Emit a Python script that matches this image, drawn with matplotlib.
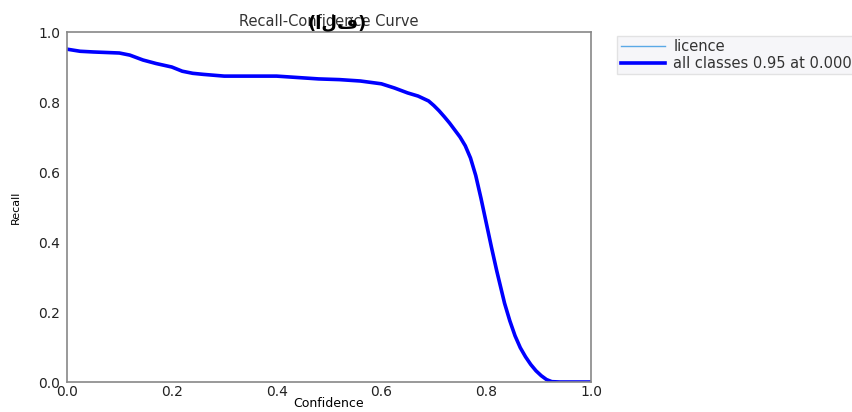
import matplotlib
matplotlib.use("Agg")
import matplotlib.pyplot as plt

confidence = [0.0, 0.025, 0.05, 0.1, 0.12, 0.145, 0.17, 0.2, 0.22, 0.24, 0.26, 0.3, 0.35, 0.4, 0.44, 0.48,
              0.52, 0.56, 0.6, 0.625, 0.65, 0.67, 0.69, 0.70, 0.71, 0.72, 0.73, 0.74, 0.75, 0.76, 0.77,
              0.78, 0.79, 0.80, 0.81, 0.82, 0.835, 0.845, 0.855, 0.865, 0.875, 0.885, 0.895, 0.905,
              0.915, 0.925, 0.94, 0.97, 1.0]
recall = [0.951, 0.945, 0.943, 0.940, 0.934, 0.920, 0.910, 0.900, 0.888, 0.882, 0.879, 0.874, 0.874, 0.874,
          0.870, 0.866, 0.864, 0.860, 0.852, 0.840, 0.826, 0.817, 0.803, 0.790, 0.775, 0.758, 0.740,
          0.720, 0.700, 0.675, 0.640, 0.590, 0.525, 0.455, 0.385, 0.318, 0.225, 0.175, 0.132, 0.098,
          0.072, 0.050, 0.032, 0.018, 0.007, 0.001, 0.0, 0.0, 0.0]

class_name = "licence"
all_label = "all classes 0.95 at 0.000"
title = "Recall-Confidence Curve"
overlay = "(الف)"

fig = plt.figure(figsize=(8.52, 4.12), dpi=100)
ax = fig.add_axes([0.0786, 0.0728, 0.6151, 0.8495])
ax.plot(confidence, recall, color="#5aa9e6", lw=1, label=class_name)
ax.plot(confidence, recall, color="blue", lw=2.6, label=all_label)
ax.set_xlim(0, 1)
ax.set_ylim(0, 1)
ax.set_xticks([0, 0.2, 0.4, 0.6, 0.8, 1.0])
ax.set_yticks([0, 0.2, 0.4, 0.6, 0.8, 1.0])
ax.tick_params(axis="both", length=0, labelsize=10, colors="#222222")
ax.tick_params(axis="x", pad=2)
ax.tick_params(axis="y", pad=5)
for s in ax.spines.values():
    s.set_color("#888888")
    s.set_linewidth(1.2)
ax.set_xlabel("Confidence", fontsize=9, labelpad=-1)
ax.set_ylabel("Recall", fontsize=8, labelpad=12)
ax.set_title(title, fontsize=10.5, color="#333333", pad=4)
fig.text(0.396, 0.945, overlay, fontsize=13, fontweight="bold", ha="center", va="center",
         family=["DejaVu Sans"])
leg = ax.legend(loc="upper left", bbox_to_anchor=(1.05, 0.99), fontsize=10.5, frameon=True,
                fancybox=False, handlelength=3, borderpad=0.25, labelspacing=0.1,
                handletextpad=0.6, borderaxespad=0)
leg.get_frame().set_facecolor("#f4f4f8")
leg.get_frame().set_edgecolor("#dddddd")
for t in leg.get_texts():
    t.set_color("#333333")
fig.savefig("out.png", dpi=100)
